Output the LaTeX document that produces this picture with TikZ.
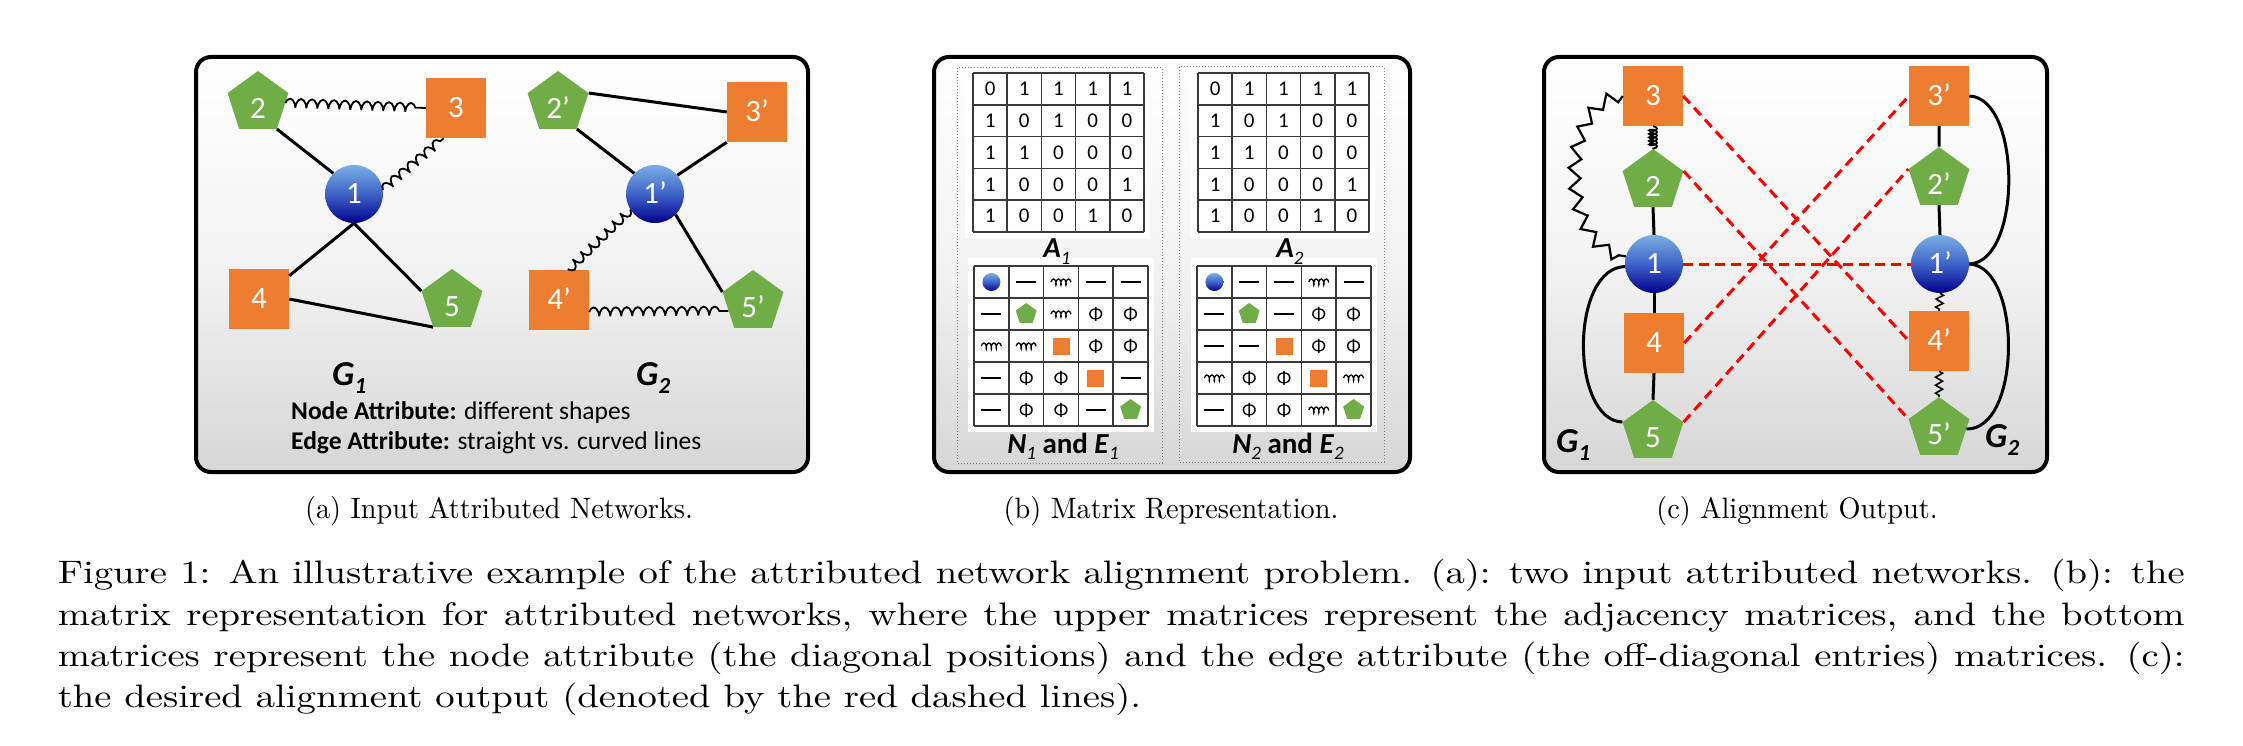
\documentclass[tikz,border=0pt]{standalone}
\usepackage{fontspec}
\newfontfamily\calib{Carlito}
\usetikzlibrary{shapes.geometric,decorations.pathmorphing,calc}
\definecolor{gr}{HTML}{70AD47}
\definecolor{orr}{HTML}{ED7D31}
\definecolor{lb}{HTML}{7AAEE3}
\definecolor{mb}{HTML}{3F63C8}
\definecolor{db}{HTML}{00008B}
\definecolor{pg}{HTML}{D6D6D6}
\definecolor{rd}{HTML}{FF0000}
\definecolor{gridc}{HTML}{3A3A3A}
\tikzset{
 lbl/.style={text=white, font=\calib\fontsize{31}{31}\selectfont},
 pent/.style={regular polygon, regular polygon sides=5, minimum size=64pt, inner sep=0pt, fill=gr, lbl, text height=31pt, text depth=0pt},
 sqr/.style={rectangle, minimum size=60pt, inner sep=0pt, fill=orr, lbl, text height=19.5pt, text depth=0pt},
 ball/.style={circle, minimum size=58pt, inner sep=0pt, top color=lb, bottom color=db, middle color=mb, lbl, text height=19.5pt, text depth=0pt},
 edge/.style={line width=3pt},
 curly/.style={line width=1.8pt, decorate, decoration={coil, amplitude=4.5pt, segment length=11pt, aspect=0.4}},
 tightcoil/.style={line width=1.8pt, decorate, decoration={coil, amplitude=4pt, segment length=3.5pt, aspect=0.4}},
 bigzz/.style={line width=2.2pt, decorate, decoration={zigzag, amplitude=6pt, segment length=20pt}},
 smallzz/.style={line width=1.6pt, decorate, decoration={zigzag, amplitude=3.5pt, segment length=8pt}},
 alignline/.style={rd, line width=3pt, dash pattern=on 10pt off 6pt},
 panelfill/.style={top color=white, bottom color=pg, middle color=white!70!pg, rounded corners=15pt},
 panelborder/.style={line width=4pt, rounded corners=15pt},
 gridline/.style={gridc, line width=1.6pt},
 diglbl/.style={font=\calib\fontsize{21}{21}\selectfont, inner sep=0pt},
 glbl/.style={font=\calib\fontsize{35}{35}\selectfont\bfseries\itshape, anchor=base west, inner sep=0pt},
 subcap/.style={anchor=base, inner sep=0pt, xscale=2.83, yscale=2.95, font=\fontsize{10}{12}\selectfont},
 maincap/.style={anchor=base west, inner sep=0pt, xscale=3.87, yscale=3.25, font=\fontsize{10}{12}\selectfont},
 attr/.style={anchor=base west, inner sep=0pt, font=\calib\fontsize{25.5}{25.5}\selectfont},
}
\newcommand\gsub[2]{#1\raisebox{-8pt}{\fontsize{23}{23}\selectfont #2}}
\newcommand\cellsym[3]{%
 \if#3C\node[circle, minimum size=18pt, inner sep=0pt, top color=lb, bottom color=db, middle color=mb] at (#1,#2) {};\fi
 \if#3P\node[regular polygon, regular polygon sides=5, minimum size=22pt, inner sep=0pt, fill=gr] at (#1,#2) {};\fi
 \if#3S\node[rectangle, minimum size=17pt, inner sep=0pt, fill=orr] at (#1,#2) {};\fi
 \if#3L\draw[line width=2.4pt] ({#1-10},#2) -- ({#1+10},#2);\fi
 \if#3W\draw[line width=1.3pt, decorate, decoration={coil,amplitude=3pt,segment length=5pt,aspect=0.4}] ({#1-10},#2) -- ({#1+10},#2);\fi
 \if#3F\node[font=\calib\fontsize{19}{19}\selectfont, inner sep=0pt] at (#1,#2) {Φ};\fi
}
\newcommand\amat[3]{%
 \fill[white] ({#1-8},{#2-5}) rectangle ({#1+177},{#2+166});
 \foreach \row [count=\r] in {{0,1,1,1,1},{1,0,1,0,0},{1,1,0,0,0},{1,0,0,0,1},{1,0,0,1,0}} {
  \foreach \v [count=\c] in \row {
   \node[diglbl] (#3-\r-\c) at ({#1+(\c-0.5)*34.2},{#2+(\r-0.5)*31.8}) {\v};
  }
 }
 \foreach \i in {0,...,5} {
  \draw[gridline] ({#1+\i*34.2},#2) -- ({#1+\i*34.2},{#2+5*31.8});
  \draw[gridline] (#1,{#2+\i*31.8}) -- ({#1+5*34.2},{#2+\i*31.8});
 }
}
\newcommand\nemat[3]{%
 \fill[white] ({#1-6},{#2-8}) rectangle ({#1+180},{#2+166});
 \foreach \row [count=\r] in {#3} {
  \foreach \v [count=\c] in \row {
   \pgfmathsetmacro\cx{#1+(\c-0.5)*34.8}
   \pgfmathsetmacro\cy{#2+(\r-0.5)*32}
   \cellsym{\cx}{\cy}{\v}
  }
 }
 \foreach \i in {0,...,5} {
  \draw[gridline] ({#1+\i*34.8},#2) -- ({#1+\i*34.8},{#2+5*32});
  \draw[gridline] (#1,{#2+\i*32}) -- ({#1+5*34.8},{#2+\i*32});
 }
}
\begin{document}
\begin{tikzpicture}[x=1pt,y=-1pt]
\useasboundingbox (0,0) rectangle (2243,746);
% ---------- panels
\shade[panelfill] (196,57) rectangle (808,472);
\draw[panelborder] (196,57) rectangle (808,472);
\shade[panelfill] (934,57) rectangle (1410,472);
\draw[panelborder] (934,57) rectangle (1410,472);
\shade[panelfill] (1544,57) rectangle (2047,472);
\draw[panelborder] (1544,57) rectangle (2047,472);

% ---------- (a) input networks
\node[pent] (a2) at (258,103) {2};
\node[sqr]  (a3) at (456,108) {3};
\node[ball] (a1) at (354,194) {1};
\node[sqr]  (a4) at (259,299) {4};
\node[pent] (a5) at (452,301) {5};
\node[pent] (b2) at (558,103) {2’};
\node[sqr]  (b3) at (757,112) {3’};
\node[ball] (b1) at (655,194) {1’};
\node[sqr]  (b4) at (559,300) {4’};
\node[pent] (b5) at (753,302) {5’};

\draw[edge] (a2.306) -- (a1.135);
\draw[curly] (a2.east) -- (a3.west);
\draw[curly] (a1.8) -- ($(a3.south west)+(18,0)$);
\draw[edge] (a1.south) -- ($(a4.north east)+(0,7)$);
\draw[edge] (a1.south) -- (a5.162);
\draw[edge] (a4.east) -- (a5.234);

\draw[edge] (b2.18) -- (b3.west);
\draw[edge] (b2.306) -- (b1.135);
\draw[edge] (b1.40) -- (b3.south west);
\draw[curly] (b1.212) -- ($(b4.north)+(9,0)$);
\draw[edge] (b1.315) -- (b5.162);
\draw[curly] ($(b4.east)+(0,12)$) -- (b5.200);

\node[glbl] (ga1) at (332,385) {\gsub{G}{1}};
\node[glbl] (ga2) at (636,385) {\gsub{G}{2}};
\node[attr] (natt) at (291,419) {\textbf{Node Attribute:} different shapes};
\node[attr] (eatt) at (291,449) {\textbf{Edge Attribute:} straight vs. curved lines};

% ---------- (b) matrices
\draw[gray, dotted, line width=1pt] (957,68) rectangle (1162,463);
\draw[gray, dotted, line width=1pt] (1179,67) rectangle (1384,462);
\amat{973}{73}{Aa}
\amat{1198}{73}{Ab}
\nemat{974}{266}{{C,L,W,L,L},{L,P,W,F,F},{W,W,S,F,F},{L,F,F,S,L},{L,F,F,L,P}}
\nemat{1197}{266}{{C,L,L,W,L},{L,P,L,F,F},{L,L,S,F,F},{W,F,F,S,W},{L,F,F,W,P}}
\node[anchor=base, inner sep=0pt, font=\calib\fontsize{29}{29}\selectfont\bfseries\itshape] (la1) at (1057,258) {A\raisebox{-6pt}{\fontsize{19}{19}\selectfont\mdseries 1}};
\node[anchor=base, inner sep=0pt, font=\calib\fontsize{29}{29}\selectfont\bfseries\itshape] (la2) at (1290,258) {A\raisebox{-6pt}{\fontsize{19}{19}\selectfont\mdseries 2}};
\node[anchor=base, inner sep=0pt, font=\calib\fontsize{29}{29}\selectfont\bfseries] (ln1) at (1063,453) {\textit{N}\raisebox{-6pt}{\fontsize{19}{19}\selectfont\mdseries\itshape 1} and \textit{E}\raisebox{-6pt}{\fontsize{19}{19}\selectfont\mdseries\itshape 1}};
\node[anchor=base, inner sep=0pt, font=\calib\fontsize{29}{29}\selectfont\bfseries] (ln2) at (1288,453) {\textit{N}\raisebox{-6pt}{\fontsize{19}{19}\selectfont\mdseries\itshape 2} and \textit{E}\raisebox{-6pt}{\fontsize{19}{19}\selectfont\mdseries\itshape 2}};

% ---------- (c) alignment
\node[sqr]  (c3) at (1653,96) {3};
\node[pent] (c2) at (1653,181) {2};
\node[ball] (c1) at (1654,264) {1};
\node[sqr]  (c4) at (1654,343) {4};
\node[pent] (c5) at (1653,432) {5};
\node[sqr]  (d3) at (1939,96) {3’};
\node[pent] (d2) at (1939,179) {2’};
\node[ball] (d1) at (1940,264) {1’};
\node[sqr]  (d4) at (1939,341) {4’};
\node[pent] (d5) at (1939,429) {5’};

\draw[bigzz] (c3.west) .. controls (1558,100) and (1558,250) .. (c1.165);
\draw[tightcoil] (c3.south) -- (c2.north);
\draw[edge] (c2.south) -- (c1.north);
\draw[edge] (c1.south) -- (c4.north);
\draw[edge] (c4.south) -- (c5.north);
\draw[edge] (c1.185) .. controls (1570,268) and (1570,420) .. (c5.162);

\draw[edge] (d3.south) -- (d2.north);
\draw[edge] (d2.south) -- (d1.north);
\draw[smallzz] (d1.south) -- (d4.north);
\draw[smallzz] (d4.south) -- (d5.north);
\draw[edge] (d3.east) .. controls (2022,98) and (2022,262) .. (d1.east);
\draw[edge] (d1.east) .. controls (2022,266) and (2022,430) .. (d5.east);

\draw[alignline] (c3.east) -- (d4.west);
\draw[alignline] (c2.18) -- (d5.162);
\draw[alignline] (c1.east) -- (d1.west);
\draw[alignline] (c4.east) -- (d3.west);
\draw[alignline] (c5.18) -- (d2.162);

\node[glbl] (gc1) at (1556,452) {\gsub{G}{1}};
\node[glbl] (gc2) at (1985,447) {\gsub{G}{2}};

% ---------- captions
\node[subcap] (capa) at (499,518) {(a) Input Attributed Networks.};
\node[subcap] (capb) at (1171,518) {(b) Matrix Representation.};
\node[subcap] (capc) at (1797,518) {(c) Alignment Output.};

\node[maincap] (cap1) at (57,583) {\makebox[549.6pt][s]{Figure 1: An illustrative example of the attributed network alignment problem. (a): two input attributed networks. (b): the}};
\node[maincap] (cap2) at (57,625) {\makebox[549.6pt][s]{matrix representation for attributed networks, where the upper matrices represent the adjacency matrices, and the bottom}};
\node[maincap] (cap3) at (57,666) {\makebox[549.6pt][s]{matrices represent the node attribute (the diagonal positions) and the edge attribute (the off-diagonal entries) matrices. (c):}};
\node[maincap] (cap4) at (57,707) {the desired alignment output (denoted by the red dashed lines).};
\end{tikzpicture}
\end{document}
